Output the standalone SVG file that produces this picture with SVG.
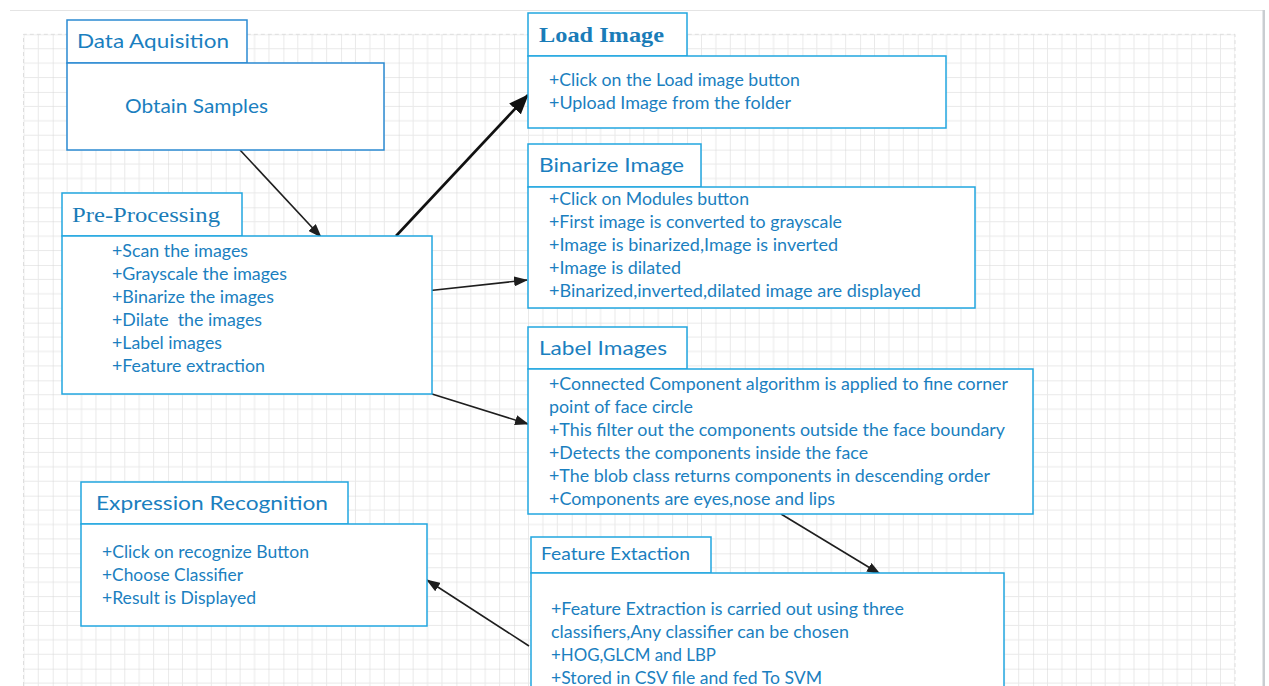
<svg xmlns="http://www.w3.org/2000/svg" width="1269" height="686" viewBox="0 0 1269 686">
  <defs>
    <style>
      .box { fill: #ffffff; stroke: #22a6e0; stroke-width: 1.5; }
      .box2 { fill: #ffffff; stroke: #2b8ad2; stroke-width: 1.5; }
      .t { font-family: Lato, "Open Sans", sans-serif; font-size: 16.5px; fill: #1b7fbf; }
      .h { font-family: Lato, "Open Sans", sans-serif; font-size: 20px; fill: #1b7fbf; }
      .hs { font-family: "Liberation Serif", serif; font-size: 22px; fill: #1a7cb8; }
      .conn { stroke: #1e1e1e; stroke-width: 1.6; fill: none; }
      .conn-bold { stroke: #111111; stroke-width: 2.6; fill: none; }
    </style>
    <pattern id="grid" patternUnits="userSpaceOnUse" x="52.7" y="34.3" width="57.67" height="57.67">
      <path d="M14.42 0V57.67M28.83 0V57.67M43.25 0V57.67M0 14.42H57.67M0 28.83H57.67M0 43.25H57.67" stroke="#e9e9e9" stroke-width="1" fill="none"/>
      <path d="M0 0V57.67M0 0H57.67" stroke="#d6d6d6" stroke-width="1" fill="none"/>
    </pattern>
    <marker id="arr" markerUnits="userSpaceOnUse" markerWidth="14" markerHeight="10" refX="13" refY="5" orient="auto">
      <path d="M0 0L14 5L0 10Z" fill="#1e1e1e"/>
    </marker>
    <marker id="arrL" markerUnits="userSpaceOnUse" markerWidth="20" markerHeight="16" refX="19" refY="8" orient="auto">
      <path d="M0 0L20 8L0 16Z" fill="#111111"/>
    </marker>
  </defs>

  <!-- page -->
  <rect x="0" y="0" width="1269" height="686" fill="#ffffff"/>
  <line x1="10" y1="10.5" x2="1263" y2="10.5" stroke="#e4e4e4" stroke-width="1"/>
  <rect x="1262.5" y="10" width="2.5" height="676" fill="#c9cdd1"/>
  <rect x="23.5" y="34.3" width="1211.5" height="660" fill="url(#grid)"/>
  <path d="M23.5 686V34.3H1235V686" fill="none" stroke="#dedede" stroke-width="1" stroke-dasharray="4 3"/>

  <!-- connectors -->
  <g id="connectors">
    <line class="conn" x1="240" y1="150" x2="321" y2="237" marker-end="url(#arr)"/>
    <line class="conn-bold" x1="396" y1="236" x2="528" y2="95" marker-end="url(#arrL)"/>
    <line class="conn" x1="426" y1="291" x2="527" y2="280" marker-end="url(#arr)"/>
    <line class="conn" x1="432" y1="394" x2="528" y2="424" marker-end="url(#arr)"/>
    <line class="conn" x1="781" y1="514" x2="880" y2="574" marker-end="url(#arr)"/>
    <line class="conn" x1="529" y1="646" x2="427" y2="580" marker-end="url(#arr)"/>
  </g>

  <g id="data-aquisition">
    <rect class="box2" x="67" y="20" width="180" height="43"/>
    <rect class="box2" x="67" y="63" width="317" height="87"/>
    <text class="h" x="77" y="48" textLength="152" lengthAdjust="spacingAndGlyphs">Data Aquisition</text>
    <text class="h" x="125" y="113" textLength="143" lengthAdjust="spacingAndGlyphs">Obtain Samples</text>
  </g>

  <g id="load-image">
    <rect class="box" x="528" y="13" width="159" height="43"/>
    <rect class="box" x="528" y="56" width="418" height="72"/>
    <text class="hs" x="539" y="42" font-weight="bold" textLength="125" lengthAdjust="spacingAndGlyphs">Load Image</text>
    <text class="t" x="549" y="86" textLength="251" lengthAdjust="spacingAndGlyphs">+Click on the Load image button</text>
    <text class="t" x="549" y="109" textLength="242" lengthAdjust="spacingAndGlyphs">+Upload Image from the folder</text>
  </g>

  <g id="binarize-image">
    <rect class="box" x="528" y="144" width="173" height="43"/>
    <rect class="box" x="528" y="187" width="447" height="121"/>
    <text class="h" x="539" y="172" textLength="145" lengthAdjust="spacingAndGlyphs">Binarize Image</text>
    <text class="t" x="549" y="205" textLength="200" lengthAdjust="spacingAndGlyphs">+Click on Modules button</text>
    <text class="t" x="549" y="228" textLength="293" lengthAdjust="spacingAndGlyphs">+First image is converted to grayscale</text>
    <text class="t" x="549" y="251" textLength="289" lengthAdjust="spacingAndGlyphs">+Image is binarized,Image is inverted</text>
    <text class="t" x="549" y="274" textLength="132" lengthAdjust="spacingAndGlyphs">+Image is dilated</text>
    <text class="t" x="549" y="297" textLength="372" lengthAdjust="spacingAndGlyphs">+Binarized,inverted,dilated image are displayed</text>
  </g>

  <g id="pre-processing">
    <rect class="box" x="62" y="193" width="180" height="43"/>
    <rect class="box" x="62" y="236" width="370" height="158"/>
    <text class="hs" x="72" y="222" textLength="148" lengthAdjust="spacingAndGlyphs">Pre-Processing</text>
    <text class="t" x="112" y="257" textLength="136" lengthAdjust="spacingAndGlyphs">+Scan the images</text>
    <text class="t" x="112" y="280" textLength="175" lengthAdjust="spacingAndGlyphs">+Grayscale the images</text>
    <text class="t" x="112" y="303" textLength="162" lengthAdjust="spacingAndGlyphs">+Binarize the images</text>
    <text class="t" x="112" y="326" textLength="150" lengthAdjust="spacingAndGlyphs" xml:space="preserve">+Dilate  the images</text>
    <text class="t" x="112" y="349" textLength="110" lengthAdjust="spacingAndGlyphs">+Label images</text>
    <text class="t" x="112" y="372" textLength="153" lengthAdjust="spacingAndGlyphs">+Feature extraction</text>
  </g>

  <g id="label-images">
    <rect class="box" x="528" y="327" width="159" height="42"/>
    <rect class="box" x="528" y="369" width="505" height="145"/>
    <text class="h" x="539" y="355" textLength="128" lengthAdjust="spacingAndGlyphs">Label Images</text>
    <text class="t" x="549" y="390" textLength="459" lengthAdjust="spacingAndGlyphs">+Connected Component algorithm is applied to fine corner</text>
    <text class="t" x="549" y="413" textLength="144" lengthAdjust="spacingAndGlyphs">point of face circle</text>
    <text class="t" x="549" y="436" textLength="456" lengthAdjust="spacingAndGlyphs">+This filter out the components outside the face boundary</text>
    <text class="t" x="549" y="459" textLength="319" lengthAdjust="spacingAndGlyphs">+Detects the components inside the face</text>
    <text class="t" x="549" y="482" textLength="441" lengthAdjust="spacingAndGlyphs">+The blob class returns components in descending order</text>
    <text class="t" x="549" y="505" textLength="286" lengthAdjust="spacingAndGlyphs">+Components are eyes,nose and lips</text>
  </g>

  <g id="expression-recognition">
    <rect class="box" x="81" y="482" width="267" height="42"/>
    <rect class="box" x="81" y="524" width="346" height="102"/>
    <text class="h" x="96" y="510" textLength="232" lengthAdjust="spacingAndGlyphs">Expression Recognition</text>
    <text class="t" x="102" y="558" textLength="207" lengthAdjust="spacingAndGlyphs">+Click on recognize Button</text>
    <text class="t" x="102" y="581" textLength="141" lengthAdjust="spacingAndGlyphs">+Choose Classifier</text>
    <text class="t" x="102" y="604" textLength="154" lengthAdjust="spacingAndGlyphs">+Result is Displayed</text>
  </g>

  <g id="feature-extaction">
    <rect class="box" x="531" y="537" width="180" height="36"/>
    <rect class="box" x="531" y="573" width="473" height="130"/>
    <text class="t" x="541" y="560" font-size="17" textLength="149" lengthAdjust="spacingAndGlyphs">Feature Extaction</text>
    <text class="t" x="551" y="615" textLength="353" lengthAdjust="spacingAndGlyphs">+Feature Extraction is carried out using three</text>
    <text class="t" x="551" y="638" textLength="298" lengthAdjust="spacingAndGlyphs">classifiers,Any classifier can be chosen</text>
    <text class="t" x="551" y="661" textLength="165" lengthAdjust="spacingAndGlyphs">+HOG,GLCM and LBP</text>
    <text class="t" x="551" y="684" textLength="271" lengthAdjust="spacingAndGlyphs">+Stored in CSV file and fed To SVM</text>
  </g>
</svg>
